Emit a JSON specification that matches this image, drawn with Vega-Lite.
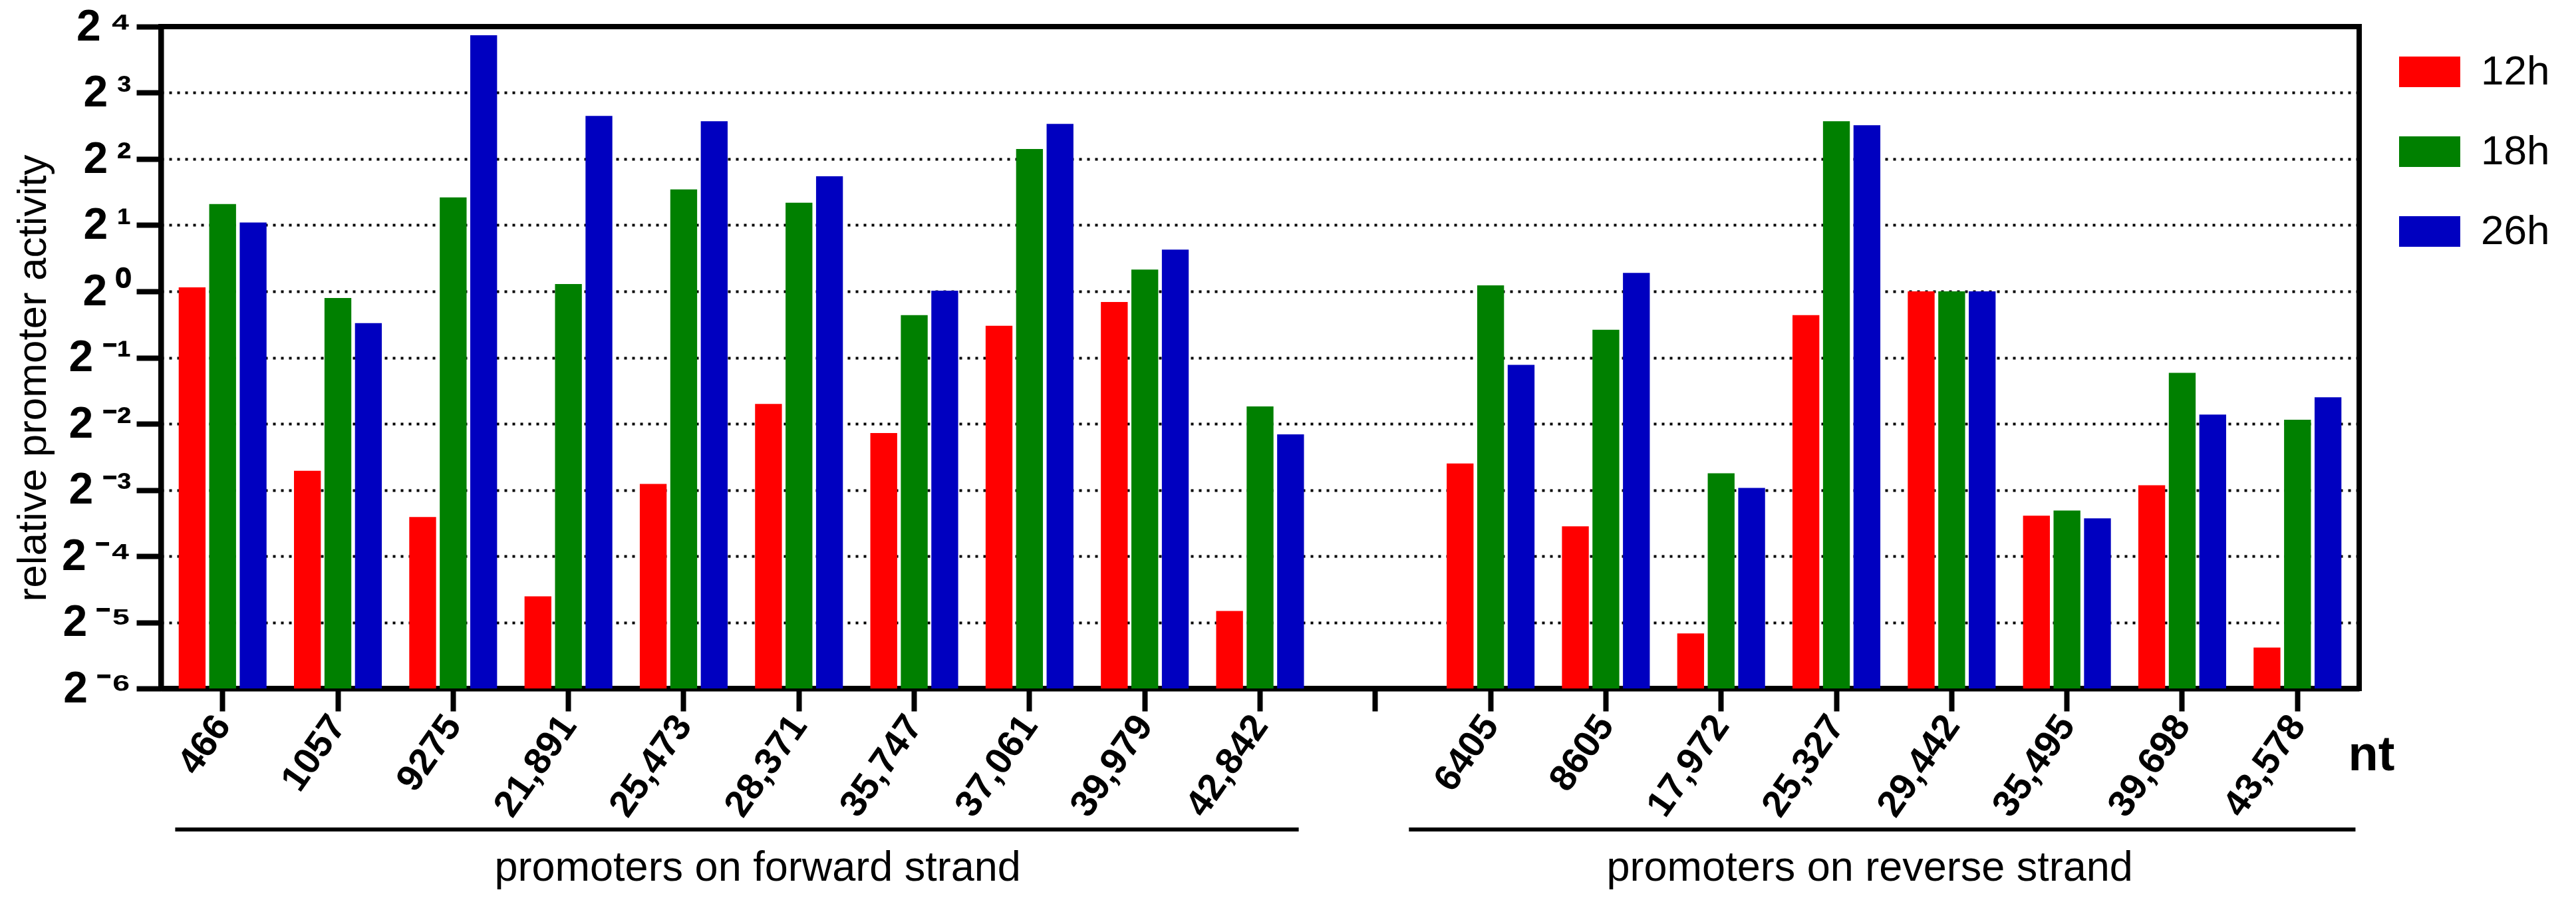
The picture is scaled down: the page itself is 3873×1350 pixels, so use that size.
{
  "$schema": "https://vega.github.io/schema/vega-lite/v6.json",
  "width": 3305,
  "height": 995,
  "autosize": {"type": "none"},
  "padding": {"left": 242, "top": 40, "right": 326, "bottom": 315},
  "background": "white",
  "config": {
    "view": {"stroke": "black", "strokeWidth": 8},
    "font": "Liberation Sans"
  },
  "datasets": {
    "bars": [
      {"nt": "466", "time": "12h", "activity": 1.0425},
      {"nt": "466", "time": "18h", "activity": 2.4967},
      {"nt": "466", "time": "26h", "activity": 2.0562},
      {"nt": "1057", "time": "12h", "activity": 0.1528},
      {"nt": "1057", "time": "18h", "activity": 0.933},
      {"nt": "1057", "time": "26h", "activity": 0.717},
      {"nt": "9275", "time": "12h", "activity": 0.0941},
      {"nt": "9275", "time": "18h", "activity": 2.676},
      {"nt": "9275", "time": "26h", "activity": 14.62},
      {"nt": "21,891", "time": "12h", "activity": 0.041},
      {"nt": "21,891", "time": "18h", "activity": 1.079},
      {"nt": "21,891", "time": "26h", "activity": 6.276},
      {"nt": "25,473", "time": "12h", "activity": 0.133},
      {"nt": "25,473", "time": "18h", "activity": 2.908},
      {"nt": "25,473", "time": "26h", "activity": 5.938},
      {"nt": "28,371", "time": "12h", "activity": 0.3078},
      {"nt": "28,371", "time": "18h", "activity": 2.532},
      {"nt": "28,371", "time": "26h", "activity": 3.34},
      {"nt": "35,747", "time": "12h", "activity": 0.2269},
      {"nt": "35,747", "time": "18h", "activity": 0.7792},
      {"nt": "35,747", "time": "26h", "activity": 1.007},
      {"nt": "37,061", "time": "12h", "activity": 0.6974},
      {"nt": "37,061", "time": "18h", "activity": 4.438},
      {"nt": "37,061", "time": "26h", "activity": 5.776},
      {"nt": "39,979", "time": "12h", "activity": 0.895},
      {"nt": "39,979", "time": "18h", "activity": 1.257},
      {"nt": "39,979", "time": "26h", "activity": 1.548},
      {"nt": "42,842", "time": "12h", "activity": 0.0352},
      {"nt": "42,842", "time": "18h", "activity": 0.2994},
      {"nt": "42,842", "time": "26h", "activity": 0.2238},
      {"nt": "6405", "time": "12h", "activity": 0.1649},
      {"nt": "6405", "time": "18h", "activity": 1.064},
      {"nt": "6405", "time": "26h", "activity": 0.4633},
      {"nt": "8605", "time": "12h", "activity": 0.0854},
      {"nt": "8605", "time": "18h", "activity": 0.669},
      {"nt": "8605", "time": "26h", "activity": 1.214},
      {"nt": "17,972", "time": "12h", "activity": 0.0278},
      {"nt": "17,972", "time": "18h", "activity": 0.1487},
      {"nt": "17,972", "time": "26h", "activity": 0.1276},
      {"nt": "25,327", "time": "12h", "activity": 0.7792},
      {"nt": "25,327", "time": "18h", "activity": 5.938},
      {"nt": "25,327", "time": "26h", "activity": 5.696},
      {"nt": "29,442", "time": "12h", "activity": 1.0},
      {"nt": "29,442", "time": "18h", "activity": 1.0},
      {"nt": "29,442", "time": "26h", "activity": 1.0},
      {"nt": "35,495", "time": "12h", "activity": 0.0954},
      {"nt": "35,495", "time": "18h", "activity": 0.1008},
      {"nt": "35,495", "time": "26h", "activity": 0.0928},
      {"nt": "39,698", "time": "12h", "activity": 0.1312},
      {"nt": "39,698", "time": "18h", "activity": 0.4263},
      {"nt": "39,698", "time": "26h", "activity": 0.2753},
      {"nt": "43,578", "time": "12h", "activity": 0.024},
      {"nt": "43,578", "time": "18h", "activity": 0.2606},
      {"nt": "43,578", "time": "26h", "activity": 0.3299}
    ],
    "groups": [
      {"strand": "promoters on forward strand", "first": "466", "last": "42,842", "anchor": "28,371"},
      {"strand": "promoters  on reverse strand", "first": "6405", "last": "43,578", "anchor": "25,327"}
    ]
  },
  "layer": [
    {
      "data": {"name": "bars"},
      "mark": {"type": "bar"},
      "encoding": {
        "x": {
          "field": "nt",
          "type": "nominal",
          "title": "nt",
          "scale": {
            "domain": ["466", "1057", "9275", "21,891", "25,473", "28,371", "35,747", "37,061", "39,979", "42,842", " ", "6405", "8605", "17,972", "25,327", "29,442", "35,495", "39,698", "43,578"],
            "paddingInner": 0.238,
            "paddingOuter": 0.154
          },
          "axis": {
            "title": "nt",
            "titleX": 3323,
            "titleY": 100,
            "titleAngle": 0,
            "titleAlign": "center",
            "titleBaseline": "middle",
            "titleFontSize": 74,
            "titleFontWeight": "bold",
            "titleColor": "black",
            "labelAngle": -55,
            "labelAlign": "right",
            "labelBaseline": "middle",
            "labelFontSize": 56,
            "labelFontWeight": "bold",
            "labelColor": "black",
            "labelPadding": 12,
            "labelOverlap": false,
            "tickSize": 34,
            "tickWidth": 8,
            "tickColor": "black",
            "domainWidth": 8,
            "domainColor": "black",
            "grid": false
          }
        },
        "xOffset": {
          "field": "time",
          "type": "nominal",
          "scale": {"paddingInner": 0.12, "paddingOuter": 0}
        },
        "y": {
          "field": "activity",
          "type": "quantitative",
          "title": "relative promoter activity",
          "scale": {"type": "log", "base": 2, "domain": [0.015625, 16], "nice": false},
          "axis": {
            "title": "relative promoter activity",
            "titleX": -193,
            "titleY": 528,
            "titleAngle": -90,
            "titleAlign": "center",
            "titleBaseline": "middle",
            "titleFontSize": 62,
            "titleFontWeight": "normal",
            "titleColor": "black",
            "values": [0.015625, 0.03125, 0.0625, 0.125, 0.25, 0.5, 1, 2, 4, 8, 16],
            "labelExpr": "datum.value == 16 ? '2\u2009⁴' : datum.value == 8 ? '2\u2009³' : datum.value == 4 ? '2\u2009²' : datum.value == 2 ? '2\u2009¹' : datum.value == 1 ? '2\u2009⁰' : datum.value == 0.5 ? '2\u2009⁻¹' : datum.value == 0.25 ? '2\u2009⁻²' : datum.value == 0.125 ? '2\u2009⁻³' : datum.value == 0.0625 ? '2\u2009⁻⁴' : datum.value == 0.03125 ? '2\u2009⁻⁵' : '2\u2009⁻⁶'",
            "labelFontSize": 66,
            "labelFontWeight": "bold",
            "labelColor": "black",
            "labelPadding": 8,
            "labelBaseline": "middle",
            "tickSize": 37,
            "tickWidth": 8,
            "tickColor": "black",
            "domainWidth": 8,
            "domainColor": "black",
            "grid": true,
            "gridColor": "black",
            "gridDash": [4, 8],
            "gridWidth": 4,
            "gridOpacity": 1
          }
        },
        "y2": {"datum": 0.015625},
        "color": {
          "field": "time",
          "type": "nominal",
          "scale": {"domain": ["12h", "18h", "26h"], "range": ["#ff0000", "#008000", "#0000c0"]},
          "legend": {
            "title": null,
            "orient": "none",
            "legendX": 3365,
            "legendY": 22,
            "padding": 0,
            "symbolType": "M-1,-0.5H1V0.5H-1Z",
            "symbolSize": 8464,
            "symbolStrokeWidth": 0,
            "symbolOpacity": 1,
            "labelFontSize": 62,
            "labelColor": "black",
            "labelOffset": 31,
            "rowPadding": 43
          }
        }
      }
    },
    {
      "data": {"name": "groups"},
      "transform": [{"filter": "datum.strand === 'promoters on forward strand'"}],
      "mark": {"type": "rule", "color": "black", "strokeWidth": 6},
      "encoding": {
        "x": {"field": "first", "type": "nominal", "title": "nt", "bandPosition": -0.04},
        "x2": {"field": "last", "bandPosition": 0.94},
        "y": {"datum": 0.00357, "type": "quantitative", "title": "relative promoter activity"}
      }
    },
    {
      "data": {"name": "groups"},
      "transform": [{"filter": "datum.strand !== 'promoters on forward strand'"}],
      "mark": {"type": "rule", "color": "black", "strokeWidth": 6},
      "encoding": {
        "x": {"field": "first", "type": "nominal", "title": "nt", "bandPosition": -0.43},
        "x2": {"field": "last", "bandPosition": 1.16},
        "y": {"datum": 0.00357, "type": "quantitative", "title": "relative promoter activity"}
      }
    },
    {
      "data": {"name": "groups"},
      "transform": [{"filter": "datum.strand === 'promoters on forward strand'"}],
      "mark": {"type": "text", "fontSize": 63, "color": "black", "align": "center", "baseline": "middle"},
      "encoding": {
        "x": {"field": "anchor", "type": "nominal", "title": "nt", "bandPosition": 0.03},
        "y": {"datum": 0.00239, "type": "quantitative", "title": "relative promoter activity"},
        "text": {"field": "strand"}
      }
    },
    {
      "data": {"name": "groups"},
      "transform": [{"filter": "datum.strand !== 'promoters on forward strand'"}],
      "mark": {"type": "text", "fontSize": 63, "color": "black", "align": "center", "baseline": "middle"},
      "encoding": {
        "x": {"field": "anchor", "type": "nominal", "title": "nt", "bandPosition": 0.88},
        "y": {"datum": 0.00239, "type": "quantitative", "title": "relative promoter activity"},
        "text": {"field": "strand"}
      }
    }
  ]
}
